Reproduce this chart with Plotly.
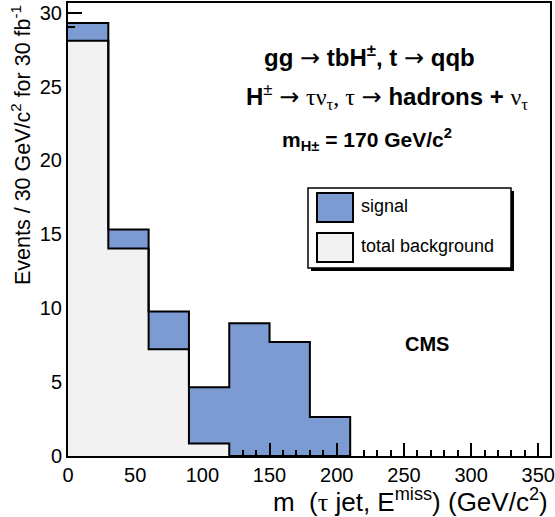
import plotly.graph_objects as go

# ---- data ----
bin_edges = [0, 30, 60, 90, 120, 150, 180, 210]
background = [28.1, 14.04, 7.22, 0.84, 0.0, 0.0, 0.0]
signal = [1.2, 1.29, 2.56, 3.81, 8.98, 7.72, 2.64]
x_ticks = [0, 50, 100, 150, 200, 250, 300, 350]
y_ticks = [0, 5, 10, 15, 20, 25, 30]

BLUE = "#7b9bd2"
GREY = "#f2f2f2"

centers = [(a + b) / 2 for a, b in zip(bin_edges[:-1], bin_edges[1:])]
widths = [b - a for a, b in zip(bin_edges[:-1], bin_edges[1:])]
total = [b + s for b, s in zip(background, signal)]

W, H = 555, 517
ML, MR, MT, MB = 68, 5, 3, 61
PW, PH = W - ML - MR, H - MT - MB


def px(x):
    return (x - ML) / PW


def py(y):
    return (H - MB - y) / PH


XR = [0, 358.7]
YR = [0, 30.65]

fig = go.Figure()

# subplot 1: signal (stacked on top of background), axes drawn above it
fig.add_trace(go.Bar(x=centers, y=signal, base=background, width=widths,
                     marker=dict(color=BLUE, line=dict(width=0)),
                     xaxis="x", yaxis="y", showlegend=False))

# subplot 2 (same area, drawn on top): background fill and outlines
fig.add_trace(go.Bar(x=centers, y=background, width=widths,
                     marker=dict(color=GREY, line=dict(width=0)),
                     xaxis="x2", yaxis="y2", showlegend=False))
fig.add_trace(go.Scatter(x=bin_edges, y=background + [0], mode="lines",
                         line=dict(shape="hv", color="black", width=2),
                         xaxis="x2", yaxis="y2", showlegend=False))
fig.add_trace(go.Scatter(x=bin_edges, y=total + [0], mode="lines",
                         line=dict(shape="hv", color="black", width=2),
                         xaxis="x2", yaxis="y2", showlegend=False))

FONT = "Liberation Sans, Arial, sans-serif"
SERIF = "font-family:'Liberation Serif',serif;font-weight:normal"
ARROW = "font-family:'DejaVu Sans',sans-serif;font-weight:normal"

axis_common = dict(showgrid=False, zeroline=False, showline=True,
                   linecolor="black", linewidth=2, mirror=True,
                   ticks="inside", tickcolor="black", tickwidth=1.5,
                   tickfont=dict(family=FONT, size=20, color="black"),
                   layer="above traces", automargin=False)

fig.update_layout(
    width=W, height=H,
    margin=dict(l=ML, r=MR, t=MT, b=MB, autoexpand=False),
    paper_bgcolor="white", plot_bgcolor="rgba(0,0,0,0)",
    bargap=0, barmode="overlay",
    xaxis=dict(range=XR, tickvals=x_ticks, ticklen=13,
               minor=dict(dtick=10, ticklen=6, ticks="inside",
                          tickcolor="black", tickwidth=1.5),
               **axis_common),
    yaxis=dict(range=YR, tickvals=y_ticks, ticklen=14,
               minor=dict(dtick=1, ticklen=7, ticks="inside",
                          tickcolor="black", tickwidth=1.5),
               **axis_common),
    xaxis2=dict(range=XR, visible=False, anchor="y2", automargin=False),
    yaxis2=dict(range=YR, visible=False, anchor="x2", automargin=False),
)

ann = []


def text(t, x, y, size, xanchor="center", yanchor="middle", angle=0):
    ann.append(dict(text=t, x=px(x), y=py(y), xref="paper", yref="paper",
                    showarrow=False, xanchor=xanchor, yanchor=yanchor,
                    textangle=angle,
                    font=dict(family=FONT, size=size, color="black")))


arrow = f"<span style=\"{ARROW}\">→</span>"
text(f"<b>gg {arrow} tbH<sup>±</sup>, t {arrow} qqb</b>", 369, 56, 24)
text(f"<b>H</b><sup>±</sup> {arrow} <span style=\"{SERIF}\">τν<sub>τ</sub>, τ</span> {arrow} "
     f"<b>hadrons +</b> <span style=\"{SERIF}\">ν<sub>τ</sub></span>", 387, 97, 24)
text("<b>m<sub>H±</sub> = 170 GeV/c<sup>2</sup></b>", 367, 139, 21)
text("<b>CMS</b>", 427, 344, 20)
text("Events / 30 GeV/c<sup>2</sup> for 30 fb<sup>-1</sup>", 21, 145, 21.5, angle=-90)
text("m  (<span style=\"font-family:'Liberation Serif',serif\">τ</span> jet, E<sup>miss</sup>) (GeV/c<sup>2</sup>)",
     550, 500, 26, xanchor="right")

# legend drawn as a box
text("signal", 359, 206, 18, xanchor="left")
text("total background", 359, 246, 18, xanchor="left")

shapes = []


def rect(x0, y0, x1, y1, fill, lw=1.5, lc="black"):
    shapes.append(dict(type="rect", xref="paper", yref="paper",
                       x0=px(x0), x1=px(x1), y0=py(y1), y1=py(y0),
                       fillcolor=fill, line=dict(color=lc, width=lw), layer="above"))


rect(311, 191, 514, 271, "black", lw=0)          # shadow
rect(308, 188, 511, 268, "white", lw=1.5)        # box
rect(317, 193, 353, 222, BLUE, lw=2)
rect(317, 233, 353, 262, GREY, lw=2)

fig.update_layout(annotations=ann, shapes=shapes)

fig.write_html("out.html", config={"displayModeBar": False},
               post_script="document.body.style.margin='0';document.body.style.padding='0';")
